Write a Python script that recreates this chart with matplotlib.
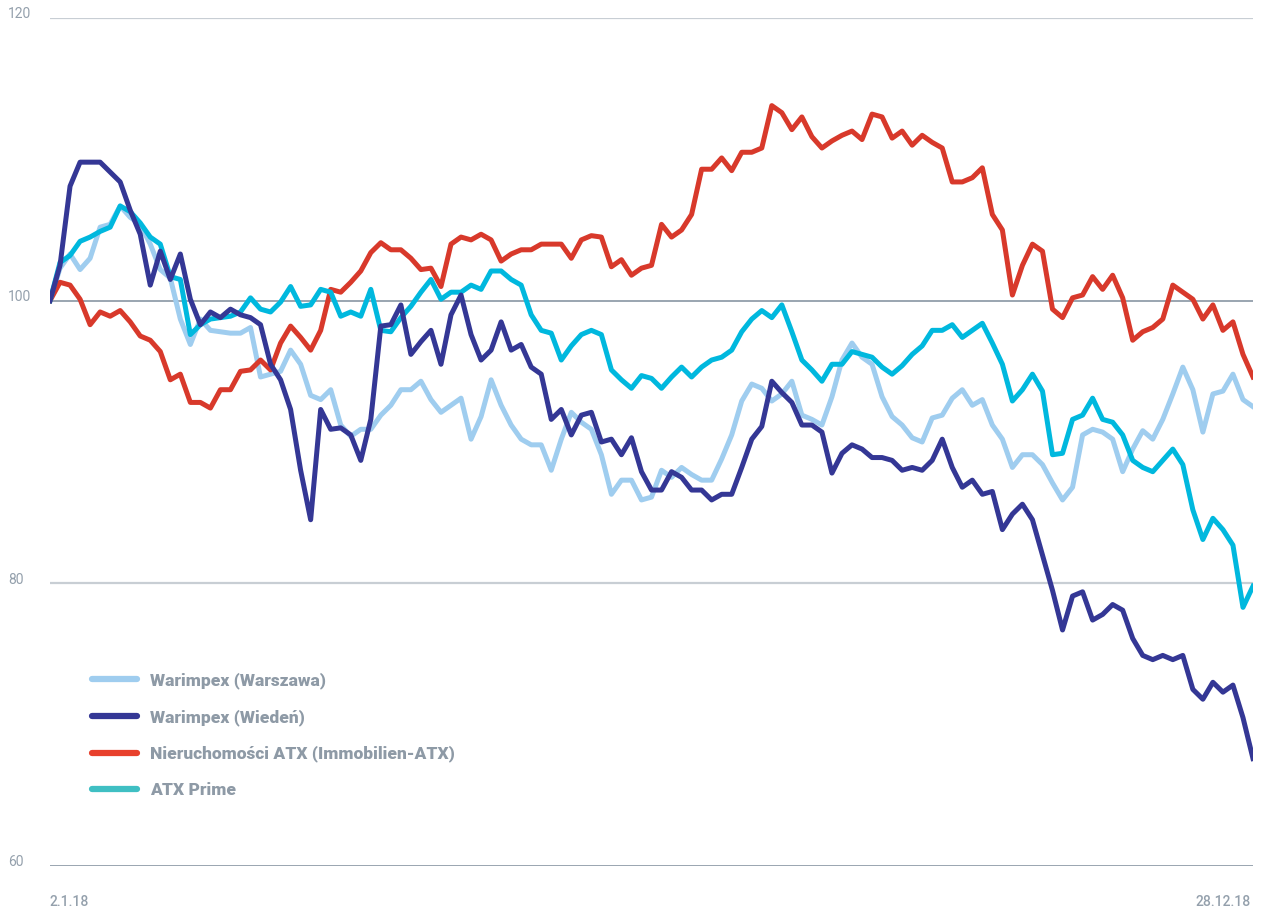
import numpy as np
import matplotlib
matplotlib.use("Agg")
import matplotlib.pyplot as plt
from matplotlib.lines import Line2D
import matplotlib.transforms as mtransforms

# index values (start = 100), every second trading day
warszawa = [100.0, 102.3, 103.3, 102.2, 103.0, 105.2, 105.4, 106.7, 105.9, 105.4,
            104.0, 102.2, 101.6, 98.7, 96.9, 98.7, 97.9, 97.8, 97.7, 97.7,
            98.1, 94.6, 94.8, 95.0, 96.5, 95.5, 93.3, 93.0, 93.7, 91.2,
            90.4, 90.9, 90.9, 91.9, 92.6, 93.7, 93.7, 94.3, 93.0, 92.1,
            92.6, 93.1, 90.2, 91.8, 94.4, 92.6, 91.2, 90.2, 89.8, 89.8,
            88.0, 90.2, 92.1, 91.4, 90.9, 89.1, 86.3, 87.3, 87.3, 85.9,
            86.1, 88.0, 87.5, 88.2, 87.7, 87.3, 87.3, 88.8, 90.5, 92.9,
            94.1, 93.8, 92.9, 93.4, 94.3, 91.9, 91.6, 91.2, 93.2, 95.8,
            97.0, 96.0, 95.5, 93.2, 91.8, 91.2, 90.3, 90.0, 91.7, 91.9,
            93.1, 93.7, 92.6, 93.0, 91.2, 90.2, 88.2, 89.1, 89.1, 88.4,
            87.1, 85.9, 86.8, 90.5, 90.9, 90.7, 90.2, 87.9, 89.5, 90.8,
            90.2, 91.6, 93.4, 95.3, 93.7, 90.7, 93.4, 93.6, 94.8, 93.0, 92.5]

wien = [100.0, 102.5, 108.1, 109.8, 109.8, 109.8, 109.1, 108.4, 106.4, 104.7,
        101.1, 103.5, 101.5, 103.3, 100.1, 98.3, 99.2, 98.8, 99.4, 99.0,
        98.8, 98.3, 95.5, 94.4, 92.3, 88.0, 84.5, 92.3, 90.9, 91.0,
        90.5, 88.7, 91.6, 98.2, 98.3, 99.7, 96.2, 97.1, 97.9, 95.5,
        99.0, 100.4, 97.6, 95.8, 96.5, 98.5, 96.5, 96.9, 95.3, 94.8,
        91.6, 92.3, 90.5, 91.9, 92.1, 90.0, 90.2, 89.1, 90.3, 87.9,
        86.6, 86.6, 87.9, 87.5, 86.6, 86.6, 85.9, 86.3, 86.3, 88.2,
        90.2, 91.1, 94.3, 93.5, 92.8, 91.2, 91.2, 90.7, 87.8, 89.2,
        89.8, 89.5, 88.9, 88.9, 88.7, 88.0, 88.2, 88.0, 88.7, 90.2,
        88.2, 86.8, 87.3, 86.3, 86.5, 83.8, 84.9, 85.6, 84.5, 82.0,
        79.5, 76.7, 79.1, 79.4, 77.4, 77.8, 78.5, 78.1, 76.1, 74.9,
        74.6, 74.9, 74.6, 74.9, 72.5, 71.8, 73.0, 72.3, 72.8, 70.5, 67.6]

immo_atx = [100.0, 101.3, 101.1, 100.1, 98.3, 99.2, 98.9, 99.3, 98.5, 97.5,
            97.2, 96.4, 94.4, 94.8, 92.8, 92.8, 92.4, 93.7, 93.7, 95.0,
            95.1, 95.8, 95.1, 97.0, 98.2, 97.4, 96.5, 97.9, 100.8, 100.6,
            101.3, 102.1, 103.4, 104.1, 103.6, 103.6, 103.0, 102.2, 102.3, 101.0,
            104.0, 104.5, 104.3, 104.7, 104.3, 102.8, 103.3, 103.6, 103.6, 104.0,
            104.0, 104.0, 103.0, 104.3, 104.6, 104.5, 102.4, 102.9, 101.8, 102.3,
            102.5, 105.4, 104.5, 105.0, 106.1, 109.3, 109.3, 110.1, 109.2, 110.5,
            110.5, 110.8, 113.8, 113.3, 112.1, 113.0, 111.6, 110.8, 111.3, 111.7,
            112.0, 111.4, 113.2, 113.0, 111.5, 112.0, 111.0, 111.7, 111.2, 110.8,
            108.4, 108.4, 108.7, 109.4, 106.1, 105.0, 100.4, 102.5, 104.0, 103.5,
            99.4, 98.8, 100.2, 100.4, 101.7, 100.8, 101.8, 100.2, 97.2, 97.8,
            98.1, 98.7, 101.1, 100.6, 100.1, 98.7, 99.7, 97.9, 98.5, 96.2, 94.6]

atx_prime = [100.0, 102.7, 103.2, 104.2, 104.5, 104.9, 105.2, 106.7, 106.3, 105.5,
             104.5, 104.0, 101.7, 101.5, 97.6, 98.3, 98.7, 98.8, 98.9, 99.2,
             100.2, 99.4, 99.2, 99.9, 101.0, 99.6, 99.7, 100.8, 100.6, 98.9,
             99.2, 98.9, 100.8, 97.9, 97.8, 98.8, 99.6, 100.6, 101.5, 100.1,
             100.6, 100.6, 101.1, 100.8, 102.1, 102.1, 101.5, 101.1, 99.0, 97.9,
             97.7, 95.8, 96.8, 97.6, 97.9, 97.6, 95.1, 94.4, 93.8, 94.7,
             94.5, 93.8, 94.6, 95.3, 94.6, 95.3, 95.8, 96.0, 96.5, 97.8,
             98.7, 99.3, 98.8, 99.7, 97.8, 95.8, 95.1, 94.3, 95.5, 95.5,
             96.4, 96.2, 96.0, 95.3, 94.8, 95.4, 96.2, 96.8, 97.9, 97.9,
             98.3, 97.4, 97.9, 98.4, 97.0, 95.5, 92.9, 93.7, 94.8, 93.6,
             89.1, 89.2, 91.6, 91.9, 93.1, 91.6, 91.4, 90.5, 88.7, 88.2,
             87.9, 88.7, 89.5, 88.4, 85.2, 83.1, 84.6, 83.8, 82.7, 78.3, 79.8]

labels = ["Warimpex (Warszawa)", "Warimpex (Wiedeń)",
          "Nieruchomości ATX (Immobilien-ATX)", "ATX Prime"]
date_labels = ["2.1.18", "28.12.18"]
y_ticks = [60, 80, 100, 120]

# colours
c_wars = "#9fcdef"
c_wien = "#343795"
c_immo = "#d8392b"
c_prime = "#00b8de"
legend_colors = ["#9fcdef", "#343795", "#e8402c", "#3fbfc3"]
text_grey = "#94a0ac"

x = np.arange(len(wien))

fig = plt.figure(figsize=(12.62, 9.08), dpi=100)
ax = fig.add_axes([50 / 1262, 42 / 908, 1203 / 1262, 848 / 908])
ax.set_xlim(0, len(x) - 1)
ax.set_ylim(60, 120)
ax.axis("off")

# horizontal grid lines (100 and 60 darker and thinner)
for v in y_ticks:
    if v in (60, 100):
        ax.axhline(v, color="#8996a3", lw=1.2, zorder=0)
    else:
        ax.axhline(v, color="#c8ced4", lw=1.6, zorder=0)

lw = 3.6
ax.plot(x, warszawa, color=c_wars, lw=lw, zorder=2)
ax.plot(x, immo_atx, color=c_immo, lw=lw, zorder=3)
ax.plot(x, atx_prime, color=c_prime, lw=lw, zorder=4)
ax.plot(x, wien, color=c_wien, lw=lw, zorder=5)

# y labels sit at the far left, just above their line
trans = mtransforms.blended_transform_factory(fig.transFigure, ax.transData)
for v in y_ticks:
    ax.text(8 / 1262, v + 0.25, str(v), transform=trans, ha="left", va="center",
            fontsize=10, color=text_grey, family="Roboto")

# first / last date
ax.text(0, -0.043, date_labels[0], transform=ax.transAxes, ha="left", va="center",
        fontsize=10, color=text_grey, family="Roboto", fontweight="medium")
ax.text(0.998, -0.043, date_labels[1], transform=ax.transAxes, ha="right", va="center",
        fontsize=10, color=text_grey, family="Roboto", fontweight="medium")

handles = [Line2D([0], [0], color=c, lw=4.5, solid_capstyle="round") for c in legend_colors]
leg = fig.legend(handles, labels, loc="upper left",
                 bbox_to_anchor=(92 / 1262, 1 - 672 / 908), bbox_transform=fig.transFigure,
                 frameon=False, borderpad=0, borderaxespad=0,
                 handlelength=2.6, handletextpad=0.75, labelspacing=1.15,
                 prop={"family": "Roboto", "weight": "black", "size": 12.5})
for t in leg.get_texts():
    t.set_color("#8e9aa6")

fig.savefig("out.png", dpi=100)
